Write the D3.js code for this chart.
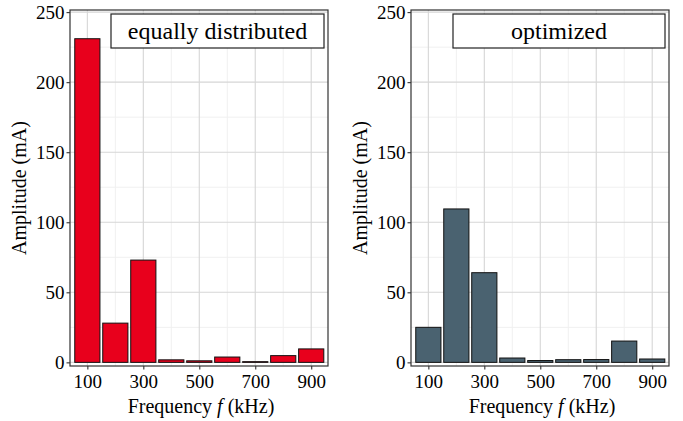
<!DOCTYPE html>
<html>
<head>
<meta charset="utf-8">
<script src="https://cdn.jsdelivr.net/npm/d3@7"></script>
<style>
  svg text { font-family: "Liberation Serif", "Times New Roman", Tinos, serif !important; }
</style>
</head>
<body style="margin:0;background:#fff">
<svg id="chart" width="683" height="421"></svg>
<script>
const freqs = [100, 200, 300, 400, 500, 600, 700, 800, 900]
const equalAmps = [231, 28, 73, 1.8, 1.1, 3.8, 0.5, 4.8, 9.6]
const optAmps = [25, 109.5, 64, 3.1, 1.3, 1.9, 2, 15.2, 2.4]
const xTicks = [100, 300, 500, 700, 900]
const yTicks = [0, 50, 100, 150, 200, 250]

const panels = [
  { left: 70, label: 'equally distributed', values: equalAmps, color: '#e8001c', boxLeft: 111 },
  { left: 411, label: 'optimized', values: optAmps, color: '#4a6270', boxLeft: 453 }
]

const FONT = 'Liberation Serif'
const svg = d3.select('#chart').attr('font-family', FONT)
const panelTop = 10
const panelBottom = 366
const pw = 258

panels.forEach((p) => {
  const x = d3.scaleLinear().domain([38, 960]).range([p.left, p.left + pw])
  const y = d3.scaleLinear().domain([-2.6, 251.5]).range([panelBottom, panelTop])
  const g = svg.append('g')

  // minor grid
  g.selectAll('.gminx')
    .data([200, 400, 600, 800])
    .enter().append('line')
    .attr('x1', (d) => x(d)).attr('x2', (d) => x(d))
    .attr('y1', panelTop).attr('y2', panelBottom)
    .attr('stroke', '#f0f0f0').attr('stroke-width', 1)
  g.selectAll('.gminy')
    .data([25, 75, 125, 175, 225])
    .enter().append('line')
    .attr('x1', p.left).attr('x2', p.left + pw)
    .attr('y1', (d) => y(d)).attr('y2', (d) => y(d))
    .attr('stroke', '#f0f0f0').attr('stroke-width', 1)
  // major grid
  g.selectAll('.gx')
    .data(xTicks)
    .enter().append('line')
    .attr('x1', (d) => x(d)).attr('x2', (d) => x(d))
    .attr('y1', panelTop).attr('y2', panelBottom)
    .attr('stroke', '#d6d6d6').attr('stroke-width', 1.1)
  g.selectAll('.gy')
    .data(yTicks)
    .enter().append('line')
    .attr('x1', p.left).attr('x2', p.left + pw)
    .attr('y1', (d) => y(d)).attr('y2', (d) => y(d))
    .attr('stroke', '#d6d6d6').attr('stroke-width', 1.1)

  // bars
  const bw = (x(190) - x(100))
  g.selectAll('.bar')
    .data(freqs)
    .enter().append('rect')
    .attr('x', (d) => x(d) - bw / 2)
    .attr('width', bw)
    .attr('y', (d, i) => y(p.values[i]))
    .attr('height', (d, i) => y(0) - y(p.values[i]))
    .attr('fill', p.color)
    .attr('stroke', '#111')
    .attr('stroke-width', 1)

  // panel border
  g.append('rect')
    .attr('x', p.left).attr('y', panelTop)
    .attr('width', pw).attr('height', panelBottom - panelTop)
    .attr('fill', 'none').attr('stroke', '#333').attr('stroke-width', 1.2)

  // axes
  const xa = g.append('g')
    .attr('transform', `translate(0,${panelBottom})`)
    .call(d3.axisBottom(x).tickValues(xTicks).tickSize(3.5).tickPadding(5))
  const ya = g.append('g')
    .attr('transform', `translate(${p.left},0)`)
    .call(d3.axisLeft(y).tickValues(yTicks).tickSize(3.5).tickPadding(2))
  ;[xa, ya].forEach((a) => {
    a.attr('font-family', FONT).attr('font-size', 19)
    a.select('.domain').remove()
    a.selectAll('.tick line').attr('stroke', '#333').attr('stroke-width', 1.1)
    a.selectAll('.tick text').attr('fill', '#000').attr('font-family', FONT)
  })

  // titles
  const xt = g.append('text')
    .attr('x', p.left + pw / 2 + 2)
    .attr('y', 413)
    .attr('text-anchor', 'middle')
    .attr('font-family', FONT)
    .attr('font-size', 20)
  xt.append('tspan').text('Frequency ')
  xt.append('tspan').attr('font-style', 'italic').text('f')
  xt.append('tspan').text(' (kHz)')

  g.append('text')
    .attr('transform', `translate(${p.left - 44},${(panelTop + panelBottom) / 2}) rotate(-90)`)
    .attr('text-anchor', 'middle')
    .attr('font-family', FONT)
    .attr('font-size', 20)
    .text('Amplitude (mA)')

  // label box
  const boxRight = p.left + pw - 4
  g.append('rect')
    .attr('x', p.boxLeft).attr('y', 14)
    .attr('width', boxRight - p.boxLeft).attr('height', 34)
    .attr('fill', '#fff').attr('stroke', '#222').attr('stroke-width', 1.2)
  g.append('text')
    .attr('x', (p.boxLeft + boxRight) / 2)
    .attr('y', 39)
    .attr('text-anchor', 'middle')
    .attr('font-family', FONT)
    .attr('font-size', 24)
    .text(p.label)
})
</script>
</body>
</html>
